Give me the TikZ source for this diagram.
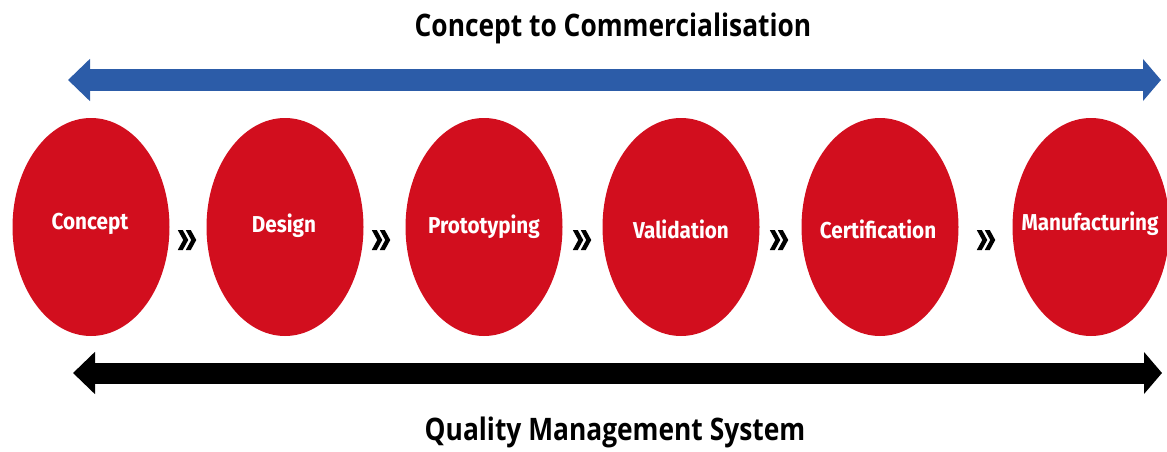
\documentclass[tikz,border=0pt]{standalone}
\usepackage{fontspec}
\setmainfont{Open Sans}
\newfontfamily\titlefont{Open Sans}[FakeStretch=0.85]
\newfontfamily\labelfont{Fira Sans}[FakeStretch=0.9]
\usetikzlibrary{arrows.meta,shapes.geometric}
\definecolor{stepred}{RGB}{210,14,30}
\definecolor{barblue}{RGB}{44,92,168}
\tikzset{
  stepbox/.style={ellipse, fill=stepred, minimum width=157pt, minimum height=218pt, inner sep=0pt},
  steplabel/.style={text=white, font=\labelfont\bfseries\fontsize{23}{26}\selectfont, inner sep=0pt},
  chev/.style={minimum width=19pt, minimum height=20pt, inner sep=0pt},
  bigbar/.style={line width=21pt, {Triangle[length=22pt,width=41pt]}-{Triangle[length=18pt,width=41pt]}},
  heading/.style={font=\titlefont\bfseries\fontsize{31}{34}\selectfont, text=black}
}
\begin{document}
\begin{tikzpicture}[x=1pt,y=-1pt]
\useasboundingbox (0,0) rectangle (1167,452);
\node[heading] (top) at (613,28) {Concept to Commercialisation};
\node[heading] (bottom) at (615,432) {Quality Management System};
\coordinate (tl) at (68,80);
\coordinate (tr) at (1161,80);
\coordinate (bl) at (73,373);
\coordinate (br) at (1162,373);
\draw[bigbar, barblue] (tl) -- (tr);
\draw[bigbar, black] (bl) -- (br);
\node[stepbox] (s1) at (91,227) {};
\node[stepbox] (s2) at (285,227) {};
\node[stepbox] (s3) at (484,227) {};
\node[stepbox] (s4) at (681,227) {};
\node[stepbox] (s5) at (880,227) {};
\node[stepbox] (s6) at (1091,227) {};
\node[steplabel] (t1) at (90,224) {Concept};
\node[steplabel] (t2) at (284,226) {Design};
\node[steplabel] (t3) at (484,227) {Prototyping};
\node[steplabel] (t4) at (681,229) {Validation};
\node[steplabel] (t5) at (878,229) {Certification};
\node[steplabel] (t6) at (1090,224) {Manufacturing};
\node[chev] (c1) at (187,240) {};
\node[chev] (c2) at (381,240) {};
\node[chev] (c3) at (582,240) {};
\node[chev] (c4) at (779,240) {};
\node[chev] (c5) at (986,240) {};
\foreach \c in {c1,c2,c3,c4,c5} {
  \fill[black] ([shift={(-9.25,-10)}]\c.center) -- ++(5,0) -- ++(5.5,10) -- ++(-5.5,10) -- ++(-5,0) -- ++(5.5,-10) -- cycle;
  \fill[black] ([shift={(-1.25,-10)}]\c.center) -- ++(5,0) -- ++(5.5,10) -- ++(-5.5,10) -- ++(-5,0) -- ++(5.5,-10) -- cycle;
}
\end{tikzpicture}
\end{document}
